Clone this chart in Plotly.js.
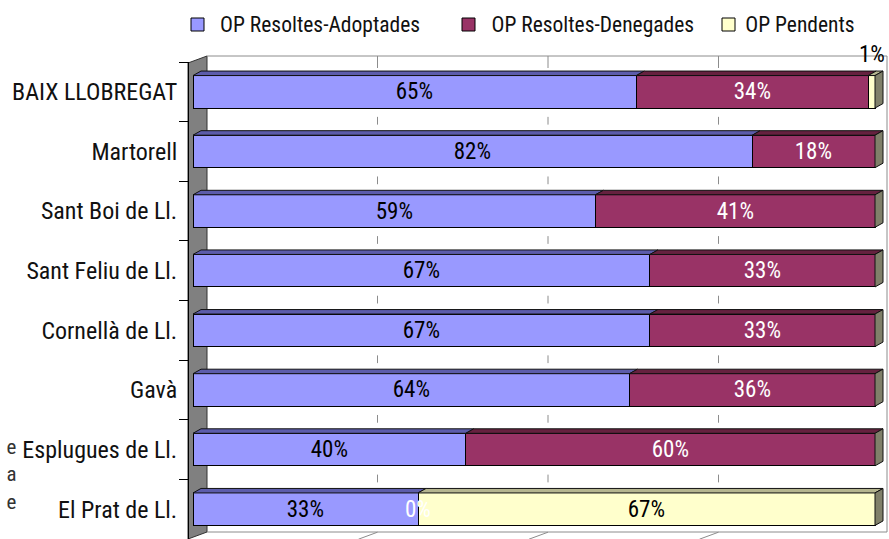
<!DOCTYPE html>
<html>
<head>
<meta charset="utf-8">
<script src="https://cdn.plot.ly/plotly-3.0.1.min.js"></script>
<style>
html,body{margin:0;padding:0;background:#fff;}
#chart{width:889px;height:539px;}
#chart text{font-stretch:75% !important;}
</style>
</head>
<body>
<div id="chart"></div>
<script>
// ---- data ----
const categories = ['BAIX LLOBREGAT', 'Martorell', 'Sant Boi de Ll.', 'Sant Feliu de Ll.', 'Cornellà de Ll.', 'Gavà', 'Esplugues de Ll.', 'El Prat de Ll.'];
const adoptades = [65, 82, 59, 67, 67, 64, 40, 33];
const denegades = [34, 18, 41, 33, 33, 36, 60, 0];
const pendents = [1, 0, 0, 0, 0, 0, 0, 67];
const seriesNames = ['OP Resoltes-Adoptades', 'OP Resoltes-Denegades', 'OP Pendents'];
const gridTicks = [25, 50, 75];
const edgeText = ['e', 'a', 'e'];

// ---- styling ----
const FONT = 'Roboto, "DejaVu Sans Condensed", sans-serif';
const FS = 23;
const FS_TICK = 24;
const FS_LEG = 21.5;
const faceColors = ['#9999FF', '#993366', '#FFFFCC'];
const topColors = ['#5c5cab', '#66213f', '#b5b58f'];
const sideColor = '#80806a';
const labelColors = ['#000000', '#ffffff', '#000000'];
const showZeroLabel = [false, true, false];
const legendBoxPx = [191, 462, 722];

const W = 889, H = 539;
const mL = 188, mR = 2, mT = 62, mB = 0;
const plotW = W - mL - mR;          // 699
const plotH = H - mT - mB;          // 477
const xStartPx = 5;
const axisPx = plotW - xStartPx;     // 694
const pxPerUnit = 682 / 100;
const xMax = axisPx / pxPerUnit;
const catPx = plotH / categories.length;
const barW = 0.545;
const dx = 8 / pxPerUnit;
const dy = 4.5 / catPx;
const wallOff = 14 / pxPerUnit;

const px2paperX = p => (p - mL) / plotW;
const px2paperY = p => (H - p) / plotH;

const series = [adoptades, denegades, pendents];
const traces = series.map((vals, s) => ({
  type: 'bar', orientation: 'h', name: seriesNames[s],
  x: vals, y: categories, width: barW,
  marker: {color: faceColors[s], line: {color: '#000', width: 1}},
  hoverinfo: 'x+y+name', showlegend: false
}));

const shapes = [];
const annotations = [];
const gridLine = {color: '#8c8c8c', width: 1};

// left wall
shapes.push({type: 'path', xref: 'paper', yref: 'paper', layer: 'below',
  path: `M${px2paperX(188)},${px2paperY(63)} L${px2paperX(207)},${px2paperY(56)} L${px2paperX(207)},${px2paperY(532)} L${px2paperX(188)},${px2paperY(539)} Z`,
  fillcolor: '#808080', line: {color: '#333', width: 1}});
// back wall edges
[[207, 56, 887, 56], [887, 56, 887, 532], [207, 532, 887, 532]].forEach(([a, b, c, d]) => {
  shapes.push({type: 'line', xref: 'paper', yref: 'paper', layer: 'below',
    x0: px2paperX(a), y0: px2paperY(b), x1: px2paperX(c), y1: px2paperY(d), line: gridLine});
});
// gridline pieces visible on the back wall
gridTicks.forEach(t => {
  const gx = t + wallOff;
  shapes.push({type: 'line', xref: 'x', yref: 'paper', layer: 'below', x0: gx, x1: gx,
    y0: px2paperY(56), y1: px2paperY(68), line: gridLine});
  categories.forEach((c, i) => {
    if (i < categories.length - 1) {
      shapes.push({type: 'line', xref: 'x', yref: 'y', layer: 'below', x0: gx, x1: gx, y0: i + 0.42, y1: i + 0.55, line: gridLine});
    }
  });
  shapes.push({type: 'line', xref: 'x', yref: 'y', layer: 'below', x0: gx, y0: 7.386, x1: gx - 19 / pxPerUnit, y1: 7.503, line: gridLine});
});

// 3D faces + labels
categories.forEach((c, i) => {
  let cum = 0;
  const yT = i - barW / 2, yB = i + barW / 2;
  series.forEach((vals, s) => {
    const v = vals[i];
    const x0 = cum, x1 = cum + v;
    if (v > 0) {
      shapes.push({type: 'path', xref: 'x', yref: 'y', layer: 'above',
        path: `M${x0},${yT} L${x0 + dx},${yT - dy} L${x1 + dx},${yT - dy} L${x1},${yT} Z`,
        fillcolor: topColors[s], line: {color: '#111', width: 1}});
    }
    if (v > 0 || showZeroLabel[s]) {
      const small = v > 0 && v < 5;
      const ann = {xref: 'x', yref: 'y', x: cum + v / 2, y: i,
        text: v + '%', showarrow: false, xanchor: 'center', yanchor: 'middle',
        font: {family: FONT, size: FS, color: small ? '#000' : labelColors[s]}};
      if (small) { ann.y = i - 0.5; ann.yshift = 8; }
      annotations.push(ann);
    }
    cum = x1;
  });
  shapes.push({type: 'path', xref: 'x', yref: 'y', layer: 'above',
    path: `M${cum},${yT} L${cum + dx},${yT - dy} L${cum + dx},${yB - dy} L${cum},${yB} Z`,
    fillcolor: sideColor, line: {color: '#111', width: 1}});
});

// legend (boxes + names)
seriesNames.forEach((name, s) => {
  const bx = legendBoxPx[s];
  shapes.push({type: 'rect', xref: 'paper', yref: 'paper',
    x0: px2paperX(bx), x1: px2paperX(bx + 13), y0: px2paperY(31), y1: px2paperY(18),
    fillcolor: faceColors[s], line: {color: '#000', width: 1}});
  annotations.push({xref: 'paper', yref: 'paper', x: px2paperX(bx + 14), y: px2paperY(24.5),
    xanchor: 'left', yanchor: 'middle', showarrow: false, text: name,
    font: {family: FONT, size: FS_LEG, color: '#111'}});
});

// clipped text fragments at far left (one multi-line text)
annotations.push({xref: 'paper', yref: 'paper', x: px2paperX(17), y: px2paperY(474),
  xanchor: 'right', yanchor: 'middle', align: 'right', showarrow: false, text: edgeText.join('<br>'),
  font: {family: FONT, size: 21, color: '#333'}, borderpad: 0});

const layout = {
  width: W, height: H,
  margin: {l: mL, r: mR, t: mT, b: mB, pad: 0},
  paper_bgcolor: '#fff', plot_bgcolor: 'rgba(0,0,0,0)',
  barmode: 'stack',
  font: {family: FONT, size: FS, color: '#111'},
  showlegend: false,
  xaxis: {domain: [xStartPx / plotW, 1], range: [0, xMax], showgrid: false, zeroline: false,
    showticklabels: false, ticks: '', showline: false, fixedrange: true},
  yaxis: {type: 'category', categoryorder: 'array', categoryarray: categories,
    range: [categories.length - 0.5, -0.5], anchor: 'free', position: 0,
    showgrid: false, zeroline: false, showline: true, linecolor: '#000', linewidth: 1,
    ticks: 'outside', tickson: 'boundaries', ticklen: 9, tickcolor: '#000', tickwidth: 1,
    ticklabelstandoff: 6, tickfont: {family: FONT, size: FS_TICK, color: '#111'}, fixedrange: true},
  shapes: shapes,
  annotations: annotations
};

Plotly.newPlot('chart', traces, layout, {displayModeBar: false, staticPlot: true});
</script>
</body>
</html>
